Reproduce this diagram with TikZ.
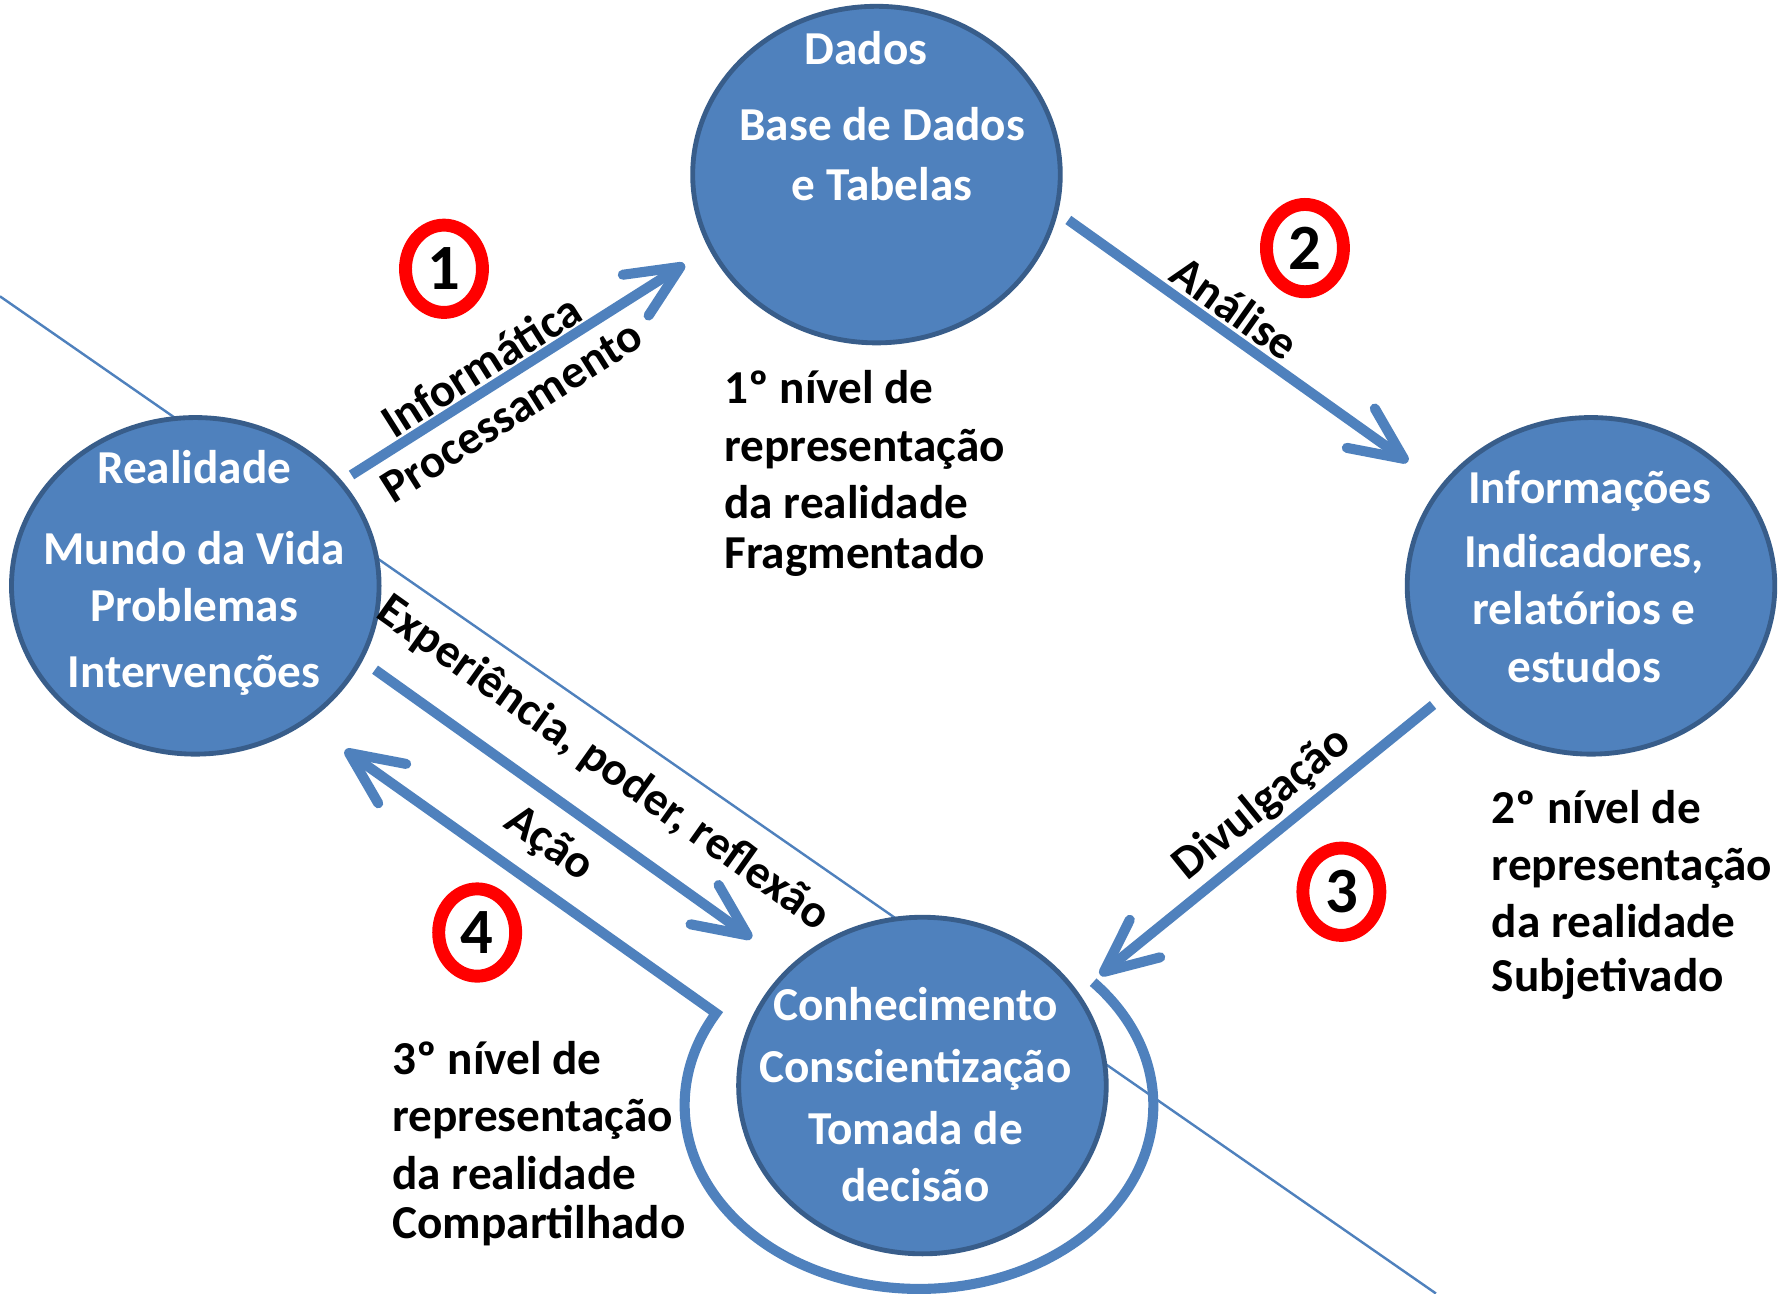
\documentclass[tikz,border=0pt]{standalone}
\usepackage{fontspec}
\setmainfont{Carlito}
\usetikzlibrary{shapes.geometric,arrows.meta}
\definecolor{bubfill}{HTML}{4F81BD}
\definecolor{bubedge}{HTML}{385D8A}
\definecolor{flowblue}{HTML}{4F81BD}

\begin{document}
\begin{tikzpicture}[bubble/.style= {shape=ellipse, fill=bubfill, draw=bubedge,
                                    line width=1.2pt, minimum width=3.2cm,
                                    minimum height=2.93cm, inner sep=0},
                    bubtext/.style={text=white, align=center, inner sep=0,
                                    font=\bfseries\fontsize{11.7}{14.2}\selectfont},
                    note/.style=   {align=left, anchor=west, inner sep=0,
                                    font=\bfseries\fontsize{11.7}{14.2}\selectfont},
                    flowlabel/.style={inner sep=0,
                                    font=\bfseries\fontsize{11.7}{14.2}\selectfont},
                    flow/.style=   {draw=flowblue, line width=2.5pt,
                                    -{Straight Barb[length=4.6mm,width=4.2mm,round]}},
                    numring/.style={shape=ellipse, draw=red, line width=3.2pt,
                                    fill=white, minimum width=0.67cm,
                                    minimum height=0.76cm, inner sep=0,
                                    font=\bfseries\fontsize{16}{16}\selectfont}]

\useasboundingbox (0,0) rectangle (15.6,11.26);

% thin line behind everything
\coordinate (lnA) at (0,8.68);
\coordinate (lnB) at (12.5,0);
\draw[flowblue, line width=0.6pt] (lnA) -- (lnB);

% the four bubbles
\node[bubble] (dados) at (7.63,9.74) {};
\node[bubble] (real)  at (1.70,6.16) {};
\node[bubble] (info)  at (13.85,6.16) {};
\node[bubble] (conh)  at (8.03,1.81) {};

\node[bubtext] (dadosT) at (7.68,10.25) {Dados\hspace*{0.28cm}\\[0.16cm]Base de Dados\\[0.02cm]e Tabelas};
\node[bubtext] (realT)  at (1.69,6.27)  {Realidade\\[0.2cm]Mundo da Vida\\Problemas\\[0.08cm]Intervenções};
\node[bubtext] (infoT)  at (13.79,6.24) {Informações\hspace*{-0.1cm}\\[0.06cm]Indicadores,\\relatórios e\\estudos};
\node[bubtext] (conhT)  at (7.97,1.73)  {Conhecimento\\[0.04cm]Conscientização\\[0.04cm]Tomada de\\decisão};

% arrow end points
\coordinate (a1s) at (3.06,7.125);   \coordinate (a1t) at (5.96,8.96);
\coordinate (a2s) at (9.30,9.345);   \coordinate (a2t) at (12.257,7.24);
\coordinate (a3s) at (12.475,5.123); \coordinate (a3t) at (9.576,2.772);
\coordinate (a4s) at (3.265,5.43);   \coordinate (a4t) at (6.544,3.092);
\coordinate (ringR) at (9.516,2.71); \coordinate (a5t) at (3.003,4.73);

\draw[flow] (a1s) -- (a1t);
\draw[flow] (a2s) -- (a2t);
\draw[flow] (a3s) -- (a3t);
\draw[flow] (a4s) -- (a4t);
\draw[flow] (ringR) arc[start angle=42, end angle=-210, x radius=2.04cm, y radius=1.60cm] -- (a5t);

% arrow labels
\node[flowlabel, rotate=32.3]  (infoL) at (4.187,8.082) {Informática};
\node[flowlabel, rotate=32.3]  (procL) at (4.454,7.676) {Processamento};
\node[flowlabel, rotate=-35.4] (analL) at (10.75,8.58) {Análise};
\node[flowlabel, rotate=39]    (divL)  at (10.99,4.26) {Divulgação};
\node[flowlabel, rotate=-35.4] (expL)  at (5.25,4.61) {Experiência, poder, reflexão};
\node[flowlabel, rotate=-35.3] (acaoL) at (4.78,3.91) {Ação};

% numbered steps
\node[numring] (n1) at (3.865,8.92)  {1};
\node[numring] (n2) at (11.36,9.10)  {2};
\node[numring] (n3) at (11.677,3.497) {3};
\node[numring] (n4) at (4.154,3.142) {4};

% levels of representation
\node[note] (lvl1) at (6.30,7.135) {1º nível de\\representação\\da realidade\\[-0.06cm]Fragmentado};
\node[note] (lvl2) at (12.98,3.47) {2º nível de\\representação\\da realidade\\[-0.03cm]Subjetivado};
\node[note] (lvl3) at (3.41,1.305) {3º nível de\\representação\\da realidade\\[-0.07cm]Compartilhado};
\end{tikzpicture}
\end{document}
